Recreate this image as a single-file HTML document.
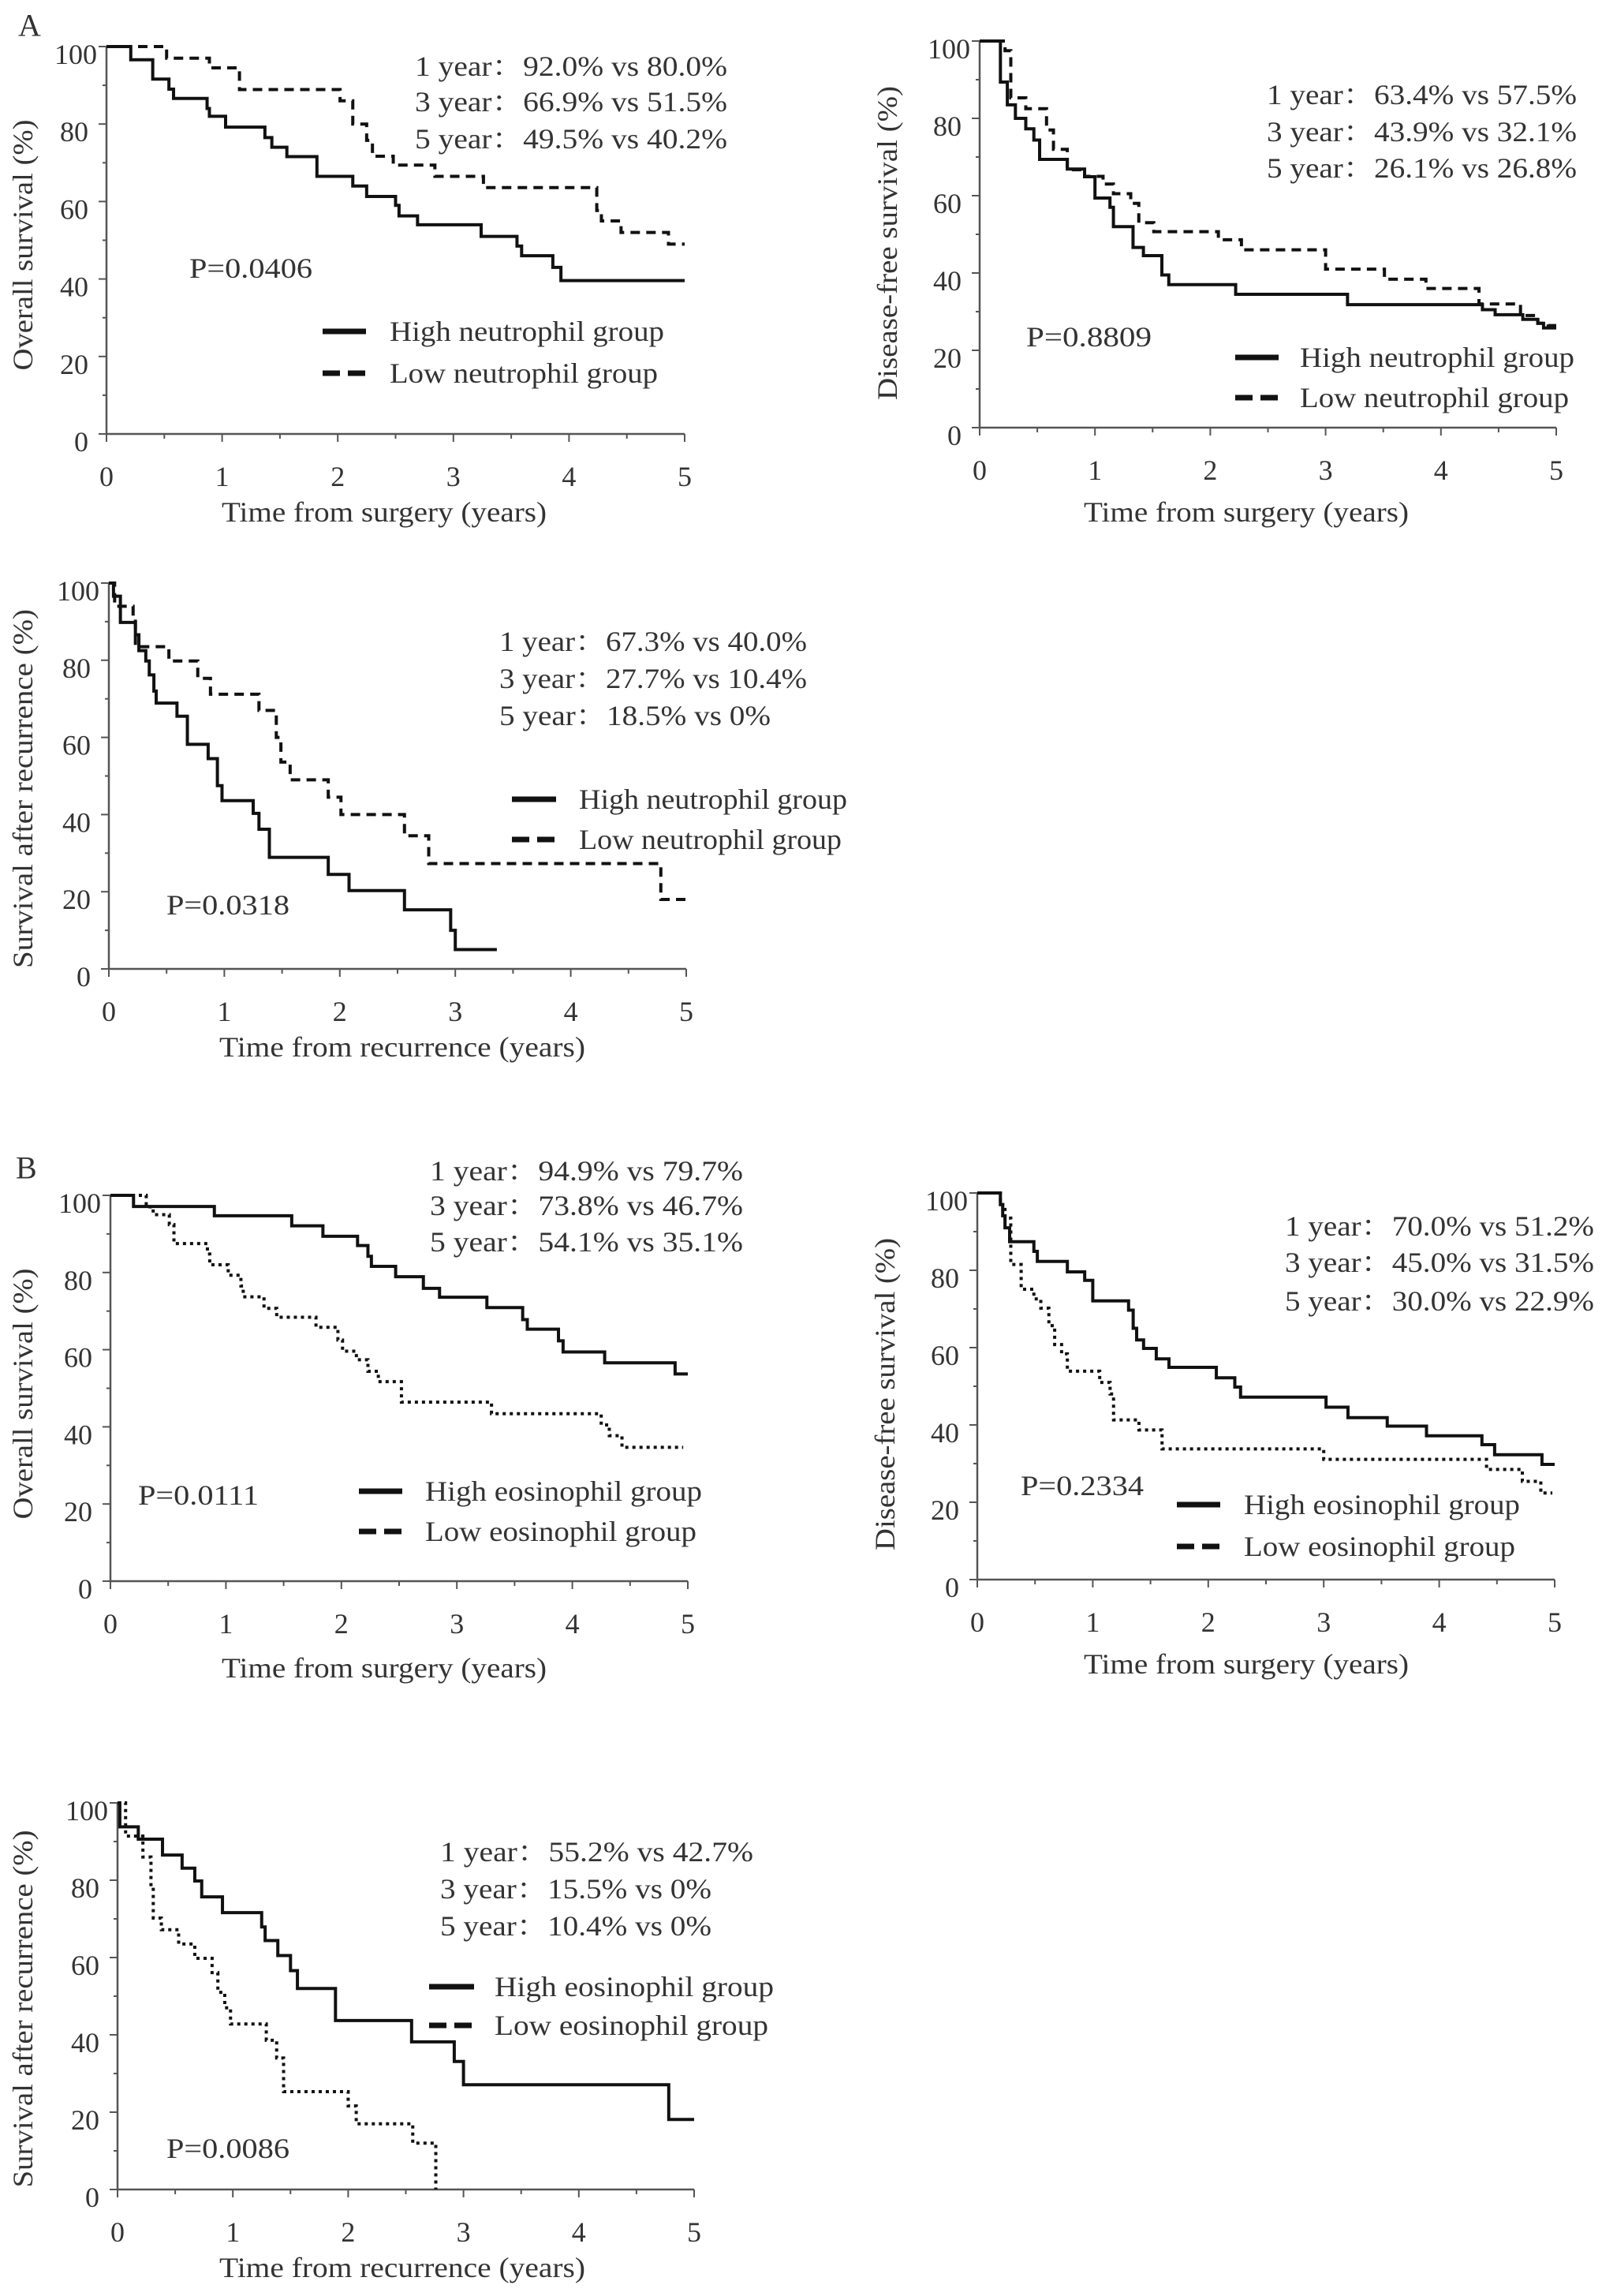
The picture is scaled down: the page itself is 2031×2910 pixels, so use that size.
<!DOCTYPE html>
<html><head><meta charset="utf-8"><style>
html,body{margin:0;padding:0;background:#fff}
svg{display:block}
text{font-family:"Liberation Serif","Noto Serif CJK SC",serif;fill:#333}
</style></head><body>
<svg id="fig" width="2031" height="2910" viewBox="0 0 2031 2910" xmlns="http://www.w3.org/2000/svg">
<text x="23" y="32" font-size="40" dominant-baseline="central">A</text>
<text x="20" y="1480" font-size="40" dominant-baseline="central">B</text>

<g font-size="36">
<text x="526" y="84" dominant-baseline="central" textLength="396" lengthAdjust="spacingAndGlyphs">1 year：92.0% vs 80.0%</text>
<text x="526" y="129" dominant-baseline="central" textLength="396" lengthAdjust="spacingAndGlyphs">3 year：66.9% vs 51.5%</text>
<text x="526" y="176" dominant-baseline="central" textLength="396" lengthAdjust="spacingAndGlyphs">5 year：49.5% vs 40.2%</text>
<text x="240" y="340" dominant-baseline="central" textLength="156" lengthAdjust="spacingAndGlyphs">P=0.0406</text>
</g>
<g font-size="36">
<text x="1606" y="120" dominant-baseline="central" textLength="393" lengthAdjust="spacingAndGlyphs">1 year：63.4% vs 57.5%</text>
<text x="1606" y="167" dominant-baseline="central" textLength="393" lengthAdjust="spacingAndGlyphs">3 year：43.9% vs 32.1%</text>
<text x="1606" y="213" dominant-baseline="central" textLength="393" lengthAdjust="spacingAndGlyphs">5 year：26.1% vs 26.8%</text>
<text x="1301" y="427" dominant-baseline="central" textLength="159" lengthAdjust="spacingAndGlyphs">P=0.8809</text>
</g>
<g font-size="36">
<text x="633" y="813" dominant-baseline="central" textLength="390" lengthAdjust="spacingAndGlyphs">1 year：67.3% vs 40.0%</text>
<text x="633" y="860" dominant-baseline="central" textLength="390" lengthAdjust="spacingAndGlyphs">3 year：27.7% vs 10.4%</text>
<text x="633" y="907" dominant-baseline="central" textLength="344" lengthAdjust="spacingAndGlyphs">5 year：18.5% vs 0%</text>
<text x="211" y="1147" dominant-baseline="central" textLength="156" lengthAdjust="spacingAndGlyphs">P=0.0318</text>
</g>
<g font-size="36">
<text x="545" y="1484" dominant-baseline="central" textLength="397" lengthAdjust="spacingAndGlyphs">1 year：94.9% vs 79.7%</text>
<text x="545" y="1528" dominant-baseline="central" textLength="397" lengthAdjust="spacingAndGlyphs">3 year：73.8% vs 46.7%</text>
<text x="545" y="1574" dominant-baseline="central" textLength="397" lengthAdjust="spacingAndGlyphs">5 year：54.1% vs 35.1%</text>
<text x="175" y="1895" dominant-baseline="central" textLength="153" lengthAdjust="spacingAndGlyphs">P=0.0111</text>
</g>
<g font-size="36">
<text x="1629" y="1554" dominant-baseline="central" textLength="392" lengthAdjust="spacingAndGlyphs">1 year：70.0% vs 51.2%</text>
<text x="1629" y="1600" dominant-baseline="central" textLength="392" lengthAdjust="spacingAndGlyphs">3 year：45.0% vs 31.5%</text>
<text x="1629" y="1649" dominant-baseline="central" textLength="392" lengthAdjust="spacingAndGlyphs">5 year：30.0% vs 22.9%</text>
<text x="1294" y="1883" dominant-baseline="central" textLength="156" lengthAdjust="spacingAndGlyphs">P=0.2334</text>
</g>
<g font-size="36">
<text x="558" y="2347" dominant-baseline="central" textLength="397" lengthAdjust="spacingAndGlyphs">1 year：55.2% vs 42.7%</text>
<text x="558" y="2394" dominant-baseline="central" textLength="344" lengthAdjust="spacingAndGlyphs">3 year：15.5% vs 0%</text>
<text x="558" y="2441" dominant-baseline="central" textLength="344" lengthAdjust="spacingAndGlyphs">5 year：10.4% vs 0%</text>
<text x="211" y="2723" dominant-baseline="central" textLength="156" lengthAdjust="spacingAndGlyphs">P=0.0086</text>
</g>
</svg>
<script>
// ---- data (time in years, survival in %) ----
const xTicks = [0,1,2,3,4,5];
const yTicks = [0,20,40,60,80,100];

const p1HighTimes = [0,0.21,0.40,0.54,0.58,0.87,0.89,1.03,1.37,1.43,1.56,1.82,2.13,2.25,2.50,2.53,2.69,3.24,3.55,3.59,3.86,3.93,5.0];
const p1HighSurv  = [100,96.6,91.6,89,86.6,84,82,79.2,76.5,74,71.6,66.5,64,61.3,59,56.3,54,51,48.5,46,43,39.6,39.6];
const p1LowTimes  = [0,0.52,0.89,1.15,2.02,2.13,2.25,2.30,2.48,2.84,3.26,4.24,4.28,4.45,4.86,5];
const p1LowSurv   = [100,97,94.5,88.9,86,80,75.8,71.7,69.4,66.5,63.6,57.7,55,52,49,49];

const p2HighTimes = [0,0.18,0.24,0.31,0.40,0.47,0.52,0.76,0.91,1.0,1.13,1.16,1.33,1.42,1.58,1.64,2.22,3.19,4.36,4.47,4.71,4.84,4.89,5];
const p2HighSurv  = [100,89.4,83.5,80,77.3,74.4,69.4,66.9,64.9,59.4,57,52,46.6,44.5,39.5,37,34.5,31.8,30.5,29.2,28,27,25.8,25.8];
const p2LowTimes  = [0,0.22,0.27,0.40,0.58,0.64,0.76,0.91,1.07,1.16,1.31,1.38,1.51,2.07,2.27,3.0,3.51,3.87,4.33,4.69,4.84,4.93,5];
const p2LowSurv   = [100,97.5,85.3,82.5,77,72,66.7,65,63,60.5,58,53,50.7,48.6,46,41,38.4,36,32,29,27,26.4,26.4];

const p3HighTimes = [0,0.04,0.10,0.23,0.26,0.32,0.35,0.39,0.41,0.59,0.68,0.86,0.94,0.98,1.25,1.30,1.39,1.90,2.08,2.56,2.96,3.0,3.36];
const p3HighSurv  = [100,96.6,89.8,86.6,82.5,79.8,76.2,72,68.9,65.5,58.2,54.5,47.5,43.6,40.3,36.2,28.9,24.5,20.3,15.3,10,5,5];
const p3LowTimes  = [0,0.05,0.21,0.23,0.52,0.77,0.88,1.30,1.45,1.49,1.57,1.90,2.01,2.56,2.77,4.78,5];
const p3LowSurv   = [100,94,91,83.5,79.8,75.3,71.2,67,60,53.6,49,44.5,40,34.5,27.3,18,18];

const p4HighTimes = [0,0.20,0.90,1.57,1.84,2.14,2.23,2.26,2.47,2.71,2.85,3.26,3.57,3.61,3.88,3.92,4.28,4.89,5];
const p4HighSurv  = [100,97.1,94.7,92.1,89.4,87,84.2,81.6,78.9,75.9,73.6,70.9,67.8,65.3,62.3,59.4,56.6,53.7,53.7];
const p4LowTimes  = [0,0.31,0.37,0.51,0.55,0.84,0.86,1.02,1.13,1.15,1.33,1.44,1.78,1.97,2.01,2.13,2.23,2.32,2.52,3.30,4.25,4.32,4.43,4.96];
const p4LowSurv   = [100,97,95,92.4,87.5,84.8,82,79.3,76.5,73.7,70.7,68.4,65.8,62.5,59.6,57.4,54.4,51.7,46.4,43.4,40.5,37.7,34.7,34.7];

const p5HighTimes = [0,0.20,0.22,0.24,0.28,0.49,0.52,0.78,0.93,1.0,1.31,1.35,1.38,1.44,1.55,1.66,2.07,2.23,2.28,3.02,3.21,3.55,3.89,4.37,4.48,4.89,5];
const p5HighSurv  = [100,97,94.1,91,87.4,84.9,82.3,79.6,77.4,72.1,69.7,65,62,59.8,57.1,54.9,52.2,49.8,47.2,44.6,41.9,39.7,37.2,34.9,32.3,29.8,29.8];
const p5LowTimes  = [0,0.20,0.24,0.29,0.38,0.49,0.55,0.62,0.67,0.73,0.78,1.06,1.15,1.18,1.40,1.60,3.0,4.41,4.72,4.88,4.98];
const p5LowSurv   = [100,97,93.5,81.5,75.1,72.6,70.2,65.7,60.8,58.4,53.9,51,48,41.3,38.7,33.8,31.1,28.5,25.4,22.4,22.4];

const p6HighTimes = [0,0.02,0.18,0.39,0.56,0.67,0.73,0.91,1.25,1.28,1.39,1.50,1.56,1.89,2.55,2.92,3.0,4.78,5];
const p6HighSurv  = [100,93.8,90.6,86.5,83.1,79.8,75.7,71.6,67.9,64.4,60.5,56.6,52,43.7,38.2,33.1,27.1,18.1,18.1];
const p6LowTimes  = [0,0.07,0.22,0.29,0.31,0.38,0.53,0.67,0.82,0.87,0.93,0.98,1.29,1.38,1.44,2.0,2.07,2.56,2.76];
const p6LowSurv   = [100,91.4,86,78.2,70.2,67.2,63.5,59.8,56.1,51,47,42.8,38.6,34,25.3,21.6,17,12,0];

const NS = 'http://www.w3.org/2000/svg';
const svg = document.getElementById('fig');
function mk(tag, attrs, parent){
  const e = document.createElementNS(NS, tag);
  for (const k in attrs) e.setAttribute(k, attrs[k]);
  (parent||svg).appendChild(e);
  return e;
}

function drawPanel(id, box, yTitle, yTitleLen, yTitleX, xTitle, xTitleLen, series, legend){
  const X = t => box.x0 + (box.x5 - box.x0) * t / 5;
  const Y = s => box.y0 - (box.y0 - box.y100) * s / 100;
  const g = mk('g', {});
  
  
  // axes
  const ax = mk('path', {d:`M${X(0)},${Y(100)}V${Y(0)}H${X(5)}`, fill:'none', stroke:'#555', 'stroke-width':2.5}, g);
  
  
  for (let v = 0; v <= 100; v += 10) {
    const len = v % 20 === 0 ? 10 : 5;
    mk('line', {x1:X(0)-len, x2:X(0), y1:Y(v), y2:Y(v), stroke:'#555', 'stroke-width':2}, g);
  }
  for (let t = 0; t <= 5.001; t += 0.5) {
    const len = Math.abs(t - Math.round(t)) < 0.01 ? 10 : 6;
    mk('line', {x1:X(t), x2:X(t), y1:Y(0), y2:Y(0)+len, stroke:'#555', 'stroke-width':2}, g);
  }
  yTicks.forEach(v => {
    const tx = mk('text', {x: v===100 ? X(0)-12 : X(0)-23, y: Y(v)+10, 'font-size':36, 'text-anchor':'end', 'dominant-baseline':'central'}, g);
    tx.textContent = v;
    
    
  });
  xTicks.forEach(v => {
    const tx = mk('text', {x: X(v), y: Y(0)+54, 'font-size':36, 'text-anchor':'middle', 'dominant-baseline':'central'}, g);
    tx.textContent = v;
    
    
  });
  const cy = (Y(0) + Y(100)) / 2 + yTitle.dy;
  const yt = mk('text', {x:yTitleX, y:cy, 'font-size':36, 'text-anchor':'middle', 'dominant-baseline':'central', transform:`rotate(-90 ${yTitleX} ${cy})`, textLength:yTitleLen, lengthAdjust:'spacingAndGlyphs'}, g);
  yt.textContent = yTitle.text;
  
  
  const xt = mk('text', {x:xTitle.x, y:xTitle.y, 'font-size':36, 'text-anchor':'middle', 'dominant-baseline':'central', textLength:xTitleLen, lengthAdjust:'spacingAndGlyphs'}, g);
  xt.textContent = xTitle.text;
  
  
  // curves
  series.forEach(s => {
    let d = `M${X(s.t[0])},${Y(s.v[0])}`;
    for (let i = 1; i < s.t.length; i++) d += `H${X(s.t[i])}V${Y(s.v[i])}`;
    const p = mk('path', {d, fill:'none', stroke:'#111', 'stroke-width':4, 'stroke-dasharray':s.dash||'none'}, g);
    
    
  });
  // legend
  legend.forEach(l => {
    const ln = mk('line', {x1:l.lx1, x2:l.lx2, y1:l.y, y2:l.y, stroke:'#111', 'stroke-width':7, 'stroke-dasharray':l.dash||'none'}, g);
    
    
    const tx = mk('text', {x:l.tx, y:l.y, 'font-size':36, 'dominant-baseline':'central', textLength:l.len, lengthAdjust:'spacingAndGlyphs'}, g);
    tx.textContent = l.text;
    
    
  });
}

const LD = '22 10';
drawPanel('p1', {x0:135,x5:868,y100:59,y0:550}, {text:'Overall survival (%)', dy:6}, 318, 29,
  {text:'Time from surgery (years)', x:487, y:649}, 412,
  [{name:'high-neutrophil-curve', t:p1HighTimes, v:p1HighSurv},
   {name:'low-neutrophil-curve', t:p1LowTimes, v:p1LowSurv, dash:'12 8'}],
  [{lx1:409,lx2:464,y:420,tx:494,len:348,text:'High neutrophil group'},
   {lx1:409,lx2:464,y:473,tx:494,len:340,text:'Low neutrophil group',dash:LD}]);

drawPanel('p2', {x0:1242,x5:1973,y100:52,y0:542}, {text:'Disease-free survival (%)', dy:11}, 398, 1125,
  {text:'Time from surgery (years)', x:1580, y:649}, 412,
  [{name:'high-neutrophil-curve', t:p2HighTimes, v:p2HighSurv},
   {name:'low-neutrophil-curve', t:p2LowTimes, v:p2LowSurv, dash:'12 8'}],
  [{lx1:1566,lx2:1621,y:453,tx:1648,len:348,text:'High neutrophil group'},
   {lx1:1566,lx2:1621,y:504,tx:1648,len:341,text:'Low neutrophil group',dash:LD}]);

drawPanel('p3', {x0:138,x5:870,y100:739,y0:1228}, {text:'Survival after recurrence (%)', dy:16}, 455, 29,
  {text:'Time from recurrence (years)', x:510, y:1327}, 464,
  [{name:'high-neutrophil-curve', t:p3HighTimes, v:p3HighSurv},
   {name:'low-neutrophil-curve', t:p3LowTimes, v:p3LowSurv, dash:'12 8'}],
  [{lx1:649,lx2:705,y:1013,tx:734,len:340,text:'High neutrophil group'},
   {lx1:649,lx2:705,y:1064,tx:734,len:333,text:'Low neutrophil group',dash:LD}]);

drawPanel('p4', {x0:140,x5:872,y100:1515,y0:2004}, {text:'Overall survival (%)', dy:7}, 318, 29,
  {text:'Time from surgery (years)', x:487, y:2114}, 412,
  [{name:'high-eosinophil-curve', t:p4HighTimes, v:p4HighSurv},
   {name:'low-eosinophil-curve', t:p4LowTimes, v:p4LowSurv, dash:'4 5'}],
  [{lx1:455,lx2:510,y:1890,tx:539,len:351,text:'High eosinophil group'},
   {lx1:455,lx2:510,y:1941,tx:539,len:344,text:'Low eosinophil group',dash:LD}]);

drawPanel('p5', {x0:1239,x5:1971,y100:1512,y0:2002}, {text:'Disease-free survival (%)', dy:10}, 396, 1122,
  {text:'Time from surgery (years)', x:1580, y:2109}, 412,
  [{name:'high-eosinophil-curve', t:p5HighTimes, v:p5HighSurv},
   {name:'low-eosinophil-curve', t:p5LowTimes, v:p5LowSurv, dash:'4 5'}],
  [{lx1:1492,lx2:1547,y:1907,tx:1577,len:350,text:'High eosinophil group'},
   {lx1:1492,lx2:1547,y:1960,tx:1577,len:344,text:'Low eosinophil group',dash:LD}]);

drawPanel('p6', {x0:149,x5:880,y100:2285,y0:2775}, {text:'Survival after recurrence (%)', dy:16}, 453, 29,
  {text:'Time from recurrence (years)', x:510, y:2874}, 464,
  [{name:'high-eosinophil-curve', t:p6HighTimes, v:p6HighSurv},
   {name:'low-eosinophil-curve', t:p6LowTimes, v:p6LowSurv, dash:'4 5'}],
  [{lx1:544,lx2:601,y:2518,tx:627,len:354,text:'High eosinophil group'},
   {lx1:544,lx2:601,y:2567,tx:627,len:347,text:'Low eosinophil group',dash:LD}]);
</script>
</body></html>
